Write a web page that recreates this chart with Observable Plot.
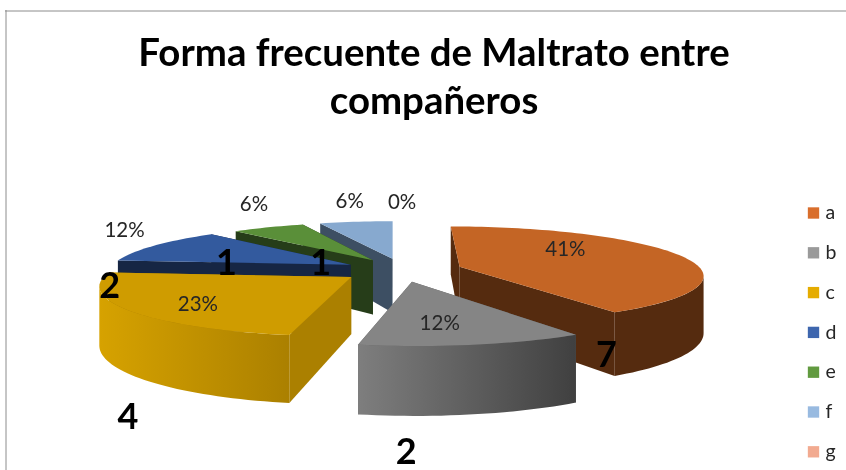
<!DOCTYPE html>
<html>
<head>
<meta charset="utf-8">
<style>
html,body{margin:0;padding:0;background:#fff;overflow:hidden}
svg{filter:blur(0.45px)}
</style>
<script src="https://cdn.jsdelivr.net/npm/d3@7"></script>
<script src="https://cdn.jsdelivr.net/npm/@observablehq/plot@0.6"></script>
</head>
<body>
<script>
// ---- data ----
const titleLines = ["Forma frecuente de Maltrato entre", "compañeros"];
const categories = ["a", "b", "c", "d", "e", "f", "g"];
const counts = [7, 2, 4, 2, 1, 1, 0];
const percents = ["41%", "12%", "23%", "12%", "6%", "6%", "0%"];

// ---- styles ----
const topColors = ["#c46525", "#858585", "#cf9c00", "#335a9e", "#5a8f39", "#87a9cf", "#eea98d"];
const wallColors = ["#552b0f", "#5a5a5a", "#ab8000", "#162644", "#263d19", "#3d4f63", "#8a5a48"];
const legendColors = ["#d96e2c", "#9a9a9a", "#e5ac00", "#3e66ae", "#619a3f", "#98bae0", "#f2aa90"];
const rimGradients = {
  b: ["#7e7e7e", "#404040"],
  c: ["#d6a200", "#ab8000"]
};
const drawOrder = ["f", "e", "d", "a", "c", "b"];

// ---- per-slice adjustments of the exploded position and radius (pie units) ----
const nudgeX = [0, -0.012, -0.016, -0.002, 0, 0, 0];
const radius = [0.98, 1.02, 0.98, 0.98, 0.96, 0.96, 1];

// ---- label offsets from the anchor on each slice (pixels) ----
const pctOffsets = [[-38, -9], [-9.5, 3], [-13.5, 7], [-95.5, -22], [-48, -34], [-18, -32], [0, -30]];
const countOffsets = [[3, 97], [-43, 132], [-83.5, 120], [-110.5, 34], [-75.5, 25], [-47, 30], null];

// ---- 3-D pie camera ----
const cam = {vx: 393, vy: -34, A: 1544, B: 1899, D: 6.25, X0: 0.04, T0: 0.01, explode: 0.24, H: 350};
const project = (X, t, lowered = false) => {
  const w = cam.D + t;
  return {x: cam.vx + cam.A * X / w, y: cam.vy + cam.B / w + (lowered ? cam.H / w : 0)};
};

const arcs = d3.pie().sort(null).value(d => d)(counts);
const slices = categories.map((name, i) => {
  const {startAngle: a0, endAngle: a1} = arcs[i];
  const mid = (a0 + a1) / 2;
  const cx = cam.X0 + cam.explode * Math.sin(mid) + nudgeX[i];
  const ct = cam.T0 + cam.explode * Math.cos(mid);
  const at = (a, r = 1) => [cx + radius[i] * r * Math.sin(a), ct + radius[i] * r * Math.cos(a)];
  return {name, i, a0, a1, mid, cx, ct, at};
});

const samples = (a0, a1) => {
  const n = Math.max(1, Math.ceil((a1 - a0) / 0.03));
  return d3.range(n + 1).map(k => a0 + (a1 - a0) * k / n);
};
const P = (xt, low) => project(xt[0], xt[1], low);

function polygons(s) {
  const out = [];
  const ctr = [s.cx, s.ct];
  const wall = (a) => {
    const e = s.at(a);
    return {mean: (ctr[1] + e[1]) / 2, pts: [P(ctr), P(e), P(e, true), P(ctr, true)], fill: wallColors[s.i]};
  };
  const parts = [wall(s.a0), wall(s.a1)];
  // the rim is only seen between the two screen extremes of the full circle
  const circle = samples(0, 2 * Math.PI);
  const lo = Math.max(s.a0, d3.greatest(circle, a => P(s.at(a)).x));
  const hi = Math.min(s.a1, d3.least(circle, a => P(s.at(a)).x));
  if (hi > lo) {
    const as = samples(lo, hi);
    const pts = [...as.map(a => P(s.at(a))), ...as.slice().reverse().map(a => P(s.at(a), true))];
    parts.push({mean: -1, pts, fill: rimGradients[s.name] ? `url(#rim-${s.name})` : wallColors[s.i]});
  }
  parts.sort((p, q) => q.mean - p.mean);
  out.push(...parts);
  out.push({pts: [P(ctr), ...samples(s.a0, s.a1).map(a => P(s.at(a)))], fill: topColors[s.i]});
  return out;
}

const polyMarks = drawOrder.flatMap(n => polygons(slices[categories.indexOf(n)]))
  .map(p => Plot.line(p.pts, {x: "x", y: "y", fill: p.fill, stroke: "none", curve: "linear-closed"}));

const defs = () => {
  const d = d3.create("svg:defs");
  for (const [k, [c0, c1]] of Object.entries(rimGradients)) {
    const g = d.append("linearGradient").attr("id", `rim-${k}`);
    g.append("stop").attr("offset", "0%").attr("stop-color", c0);
    g.append("stop").attr("offset", "100%").attr("stop-color", c1);
  }
  return d.node();
};

const anchors = slices.map(s => P(s.at(s.mid, 0.65)));
const pctRows = percents.map((label, i) => ({
  label, x: anchors[i].x + pctOffsets[i][0], y: anchors[i].y + pctOffsets[i][1]
}));
const countRows = counts.flatMap((v, i) => countOffsets[i] ? [{
  label: String(v), x: anchors[i].x + countOffsets[i][0], y: anchors[i].y + countOffsets[i][1]
}] : []);

const legendRows = categories.map((name, i) => ({name, color: legendColors[i], y: 212.5 + i * 39.8}));

const fontFamily = "Lato, 'Open Sans', sans-serif";
const chart = Plot.plot({
  width: 846, height: 470,
  margin: 0,
  x: {domain: [0, 846], range: [0, 846], axis: null},
  y: {domain: [0, 470], range: [0, 470], axis: null},
  style: {background: "#fff", fontFamily, display: "block"},
  marks: [
    defs,
    Plot.ruleY([10.5], {x1: 5, x2: 846, stroke: "#8c8c8c", strokeWidth: 1}),
    Plot.ruleX([5.5], {y1: 10, y2: 470, stroke: "#8c8c8c", strokeWidth: 1}),
    Plot.text(titleLines, {
      x: 433.5, y: (d, i) => 53 + i * 48, text: d => d,
      fontSize: 38.4, fontWeight: 700, fill: "#000", textAnchor: "middle", lineAnchor: "middle"
    }),
    ...polyMarks,
    Plot.text(pctRows, {x: "x", y: "y", text: "label", fontSize: 20.5, fill: "#262626", textAnchor: "middle", lineAnchor: "middle"}),
    Plot.text(countRows, {x: "x", y: "y", text: "label", fontSize: 36, fontWeight: 700, fill: "#000", textAnchor: "middle", lineAnchor: "middle"}),
    Plot.dot(legendRows, {x: () => 813, y: "y", fill: "color", symbol: "square", r: 6.4}),
    Plot.text(legendRows, {x: () => 825, y: "y", text: "name", fontSize: 19.5, fill: "#262626", textAnchor: "start", lineAnchor: "middle"})
  ]
});
document.body.appendChild(chart);
</script>
</body>
</html>
